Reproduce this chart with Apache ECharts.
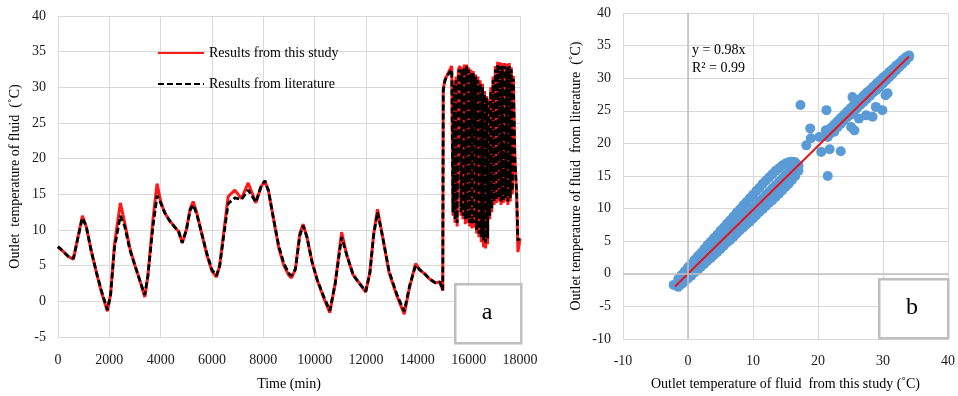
<!DOCTYPE html>
<html>
<head>
<meta charset="utf-8">
<script src="https://cdn.jsdelivr.net/npm/echarts@6/dist/echarts.min.js"></script>
<style>
html,body{margin:0;padding:0;background:#fff;}
#chart{width:958px;height:396px;}
</style>
</head>
<body>
<div id="chart"></div>
<script>
// ---- Panel a: time series ----
const timeMin = [0,200,400,600,750,950,1100,1300,1500,1700,1925,2050,2200,2430,2600,2800,3000,3200,3380,3500,3700,3860,4000,4160,4350,4550,4700,4840,5000,5150,5265,5400,5600,5800,6000,6175,6300,6450,6630,6890,7150,7410,7710,7900,8060,8200,8400,8600,8800,9000,9100,9250,9420,9550,9700,9900,10100,10350,10590,10800,11050,11250,11500,11750,11990,12150,12300,12450,12650,12900,13200,13490,13700,13930,14100,14300,14490,14700,14880,14990,15010,
15080,15200,15340,15390,15430,15470,15510,15550,15600,15660,15700,15740,15780,15830,15870,15920,15960,16000,16040,16090,16130,16180,16220,16270,16310,16360,16400,16450,16490,16540,16580,16620,16660,16700,16740,16770,16820,16860,16900,16950,16990,17040,17080,17130,17170,17220,17260,17310,17350,17400,17440,17490,17530,17580,17620,17660,17700,17740,17800,17870,17920,17960,18000];
const studyTemp = [7.6,7.0,6.3,5.9,8.5,12.0,10.5,7.0,4.0,1.2,-1.4,1.0,8.0,13.8,11.0,7.5,5.0,2.8,0.6,3.5,11.5,16.5,14.0,12.4,11.3,10.4,9.8,8.2,10.0,13.0,14.0,12.5,9.5,6.5,4.2,3.4,5.0,9.5,14.7,15.6,14.4,16.6,13.8,16.0,16.9,15.5,11.5,7.5,5.0,3.6,3.3,4.5,9.5,10.8,9.0,5.5,3.0,0.5,-1.6,2.5,9.7,6.5,3.7,2.5,1.3,4.0,9.5,12.9,9.0,4.0,0.8,-1.8,2.0,5.3,4.4,3.8,3.1,2.6,2.7,1.5,29.8,
31.1,32.0,33.0,12.0,31.0,11.0,31.5,10.5,32.5,33.0,12.0,32.8,11.5,33.2,10.8,33.2,11.0,32.8,10.5,32.5,10.2,32.3,10.3,31.8,9.5,31.5,9.0,31.0,8.3,30.5,7.6,29.5,7.4,28.8,8.0,28.4,11.5,30.0,12.5,31.5,13.5,33.0,13.8,33.6,14.0,33.5,13.5,33.4,13.8,33.4,14.0,33.3,13.5,33.4,14.0,32.8,15.0,31.6,20.0,14.7,6.9,7.0,8.8];
const literatureTemp = [7.7,7.0,6.3,6.0,8.5,11.7,10.5,7.0,4.0,1.4,-1.2,1.0,7.5,12.0,10.5,7.2,5.0,2.8,0.9,3.5,10.5,14.8,13.8,12.4,11.3,10.4,9.8,8.2,10.0,12.8,13.5,12.3,9.5,6.7,4.4,3.6,5.0,9.0,13.7,14.5,14.3,15.6,13.9,16.0,16.9,15.5,11.5,7.8,5.3,3.9,3.6,4.5,9.2,10.6,9.0,5.5,3.0,0.7,-1.3,2.5,9.0,6.5,3.7,2.5,1.4,4.0,9.3,12.5,9.0,4.2,1.0,-1.4,2.2,5.0,4.4,3.8,3.1,2.6,2.7,1.6,29.5,
31.0,31.8,32.5,12.5,30.5,11.5,31.0,11.0,32.0,32.5,12.5,32.5,12.0,32.8,11.5,33.0,11.5,32.5,11.0,32.0,10.8,32.0,11.0,31.5,10.0,31.0,9.5,30.5,9.0,30.0,8.5,29.0,8.2,28.5,8.8,28.0,12.0,29.5,13.0,31.0,14.0,32.5,14.2,33.2,14.5,33.0,14.0,33.0,14.2,33.0,14.5,32.8,14.0,33.0,14.5,32.5,15.5,31.2,20.0,15.0,8.5,8.8,9.2];
const xTicksA = {min:0, max:18000, interval:2000};
const yTicksA = {min:-5, max:40, interval:5};

// ---- Panel b: scatter ----
const scatterX = [-2.2,
-1.5,-1.5,-1.5,-1,-1,-1,-0.5,-0.5,-0.5,0,0,0,0.5,0.5,0.5,1,1,1,1.5,1.5,1.5,2,2,2,2.5,2.5,2.5,3,3,3,3.5,3.5,3.5,4,4,4,4.5,4.5,4.5,5,5,5,5.5,5.5,5.5,6,6,6,6.5,6.5,6.5,7,7,7,7.5,7.5,7.5,8,8,8,8.5,8.5,8.5,9,9,9,9.5,9.5,9.5,10,10,10,10.5,10.5,10.5,11,11,11,11.5,11.5,11.5,12,12,12,12.5,12.5,12.5,13,13,13,13.5,13.5,13.5,14,14,14,14.5,14.5,14.5,15,15,15,15.5,15.5,15.5,16,16,16,16.5,16.5,16.5,17,17,
21.5,21.5,22,22,22.5,22.5,23,23,23.5,23.5,24,24,24.5,24.5,25,25,25.5,25.5,26,26,26.5,26.5,27,27,27.5,27.5,28,28,28.5,28.5,29,29,29.5,29.5,30,30,30.5,30.5,31,31,31.5,31.5,32,32,32.5,32.5,33,33,33.5,33.5,34,34,
17.3,21.3,18.8,18.2,18.9,20.5,21.8,23.5,21.5,20.2,21.2,22.5,25.3,25.1,25.6,26.3,27.4,28.4,29.9,28.9,30.4,30.7];
const scatterY = [-1.7,
-2.0,-1.3,-0.8,-1.6,-0.8,-0.2,-1.2,-0.3,0.4,-0.7,0.2,1.0,-0.3,0.7,1.5,0.2,1.2,2.1,0.6,1.7,2.7,1.1,2.2,3.2,1.5,2.7,3.8,2.0,3.2,4.4,2.4,3.7,4.9,2.9,4.2,5.5,3.3,4.7,6.0,3.8,5.2,6.6,4.3,5.6,7.1,4.8,6.1,7.7,5.2,6.6,8.2,5.7,7.1,8.8,6.2,7.6,9.4,6.7,8.1,9.9,7.1,8.6,10.5,7.6,9.1,11.0,8.0,9.6,11.6,8.5,10.1,12.1,9.0,10.6,12.7,9.5,11.1,13.2,9.9,11.6,13.8,10.4,12.1,14.3,10.9,12.6,14.8,11.3,13.1,15.3,11.8,13.6,15.8,12.3,14.1,16.2,12.8,14.6,16.6,13.3,15.1,16.9,13.8,15.5,17.1,14.4,15.9,17.2,15.0,16.3,17.1,15.8,16.6,
21.0,21.8,21.6,22.4,22.1,22.9,22.5,23.4,23.0,23.9,23.5,24.4,24.0,24.9,24.4,25.4,24.9,25.9,25.4,26.4,25.9,26.8,26.3,27.3,26.8,27.8,27.3,28.2,27.8,28.7,28.2,29.2,28.7,29.6,29.2,30.1,29.7,30.5,30.2,31.0,30.7,31.4,31.2,31.9,31.7,32.3,32.2,32.8,32.7,33.2,33.2,33.5,
25.9,25.1,22.3,19.7,20.8,18.7,19.1,18.8,15.0,21.0,22.0,21.8,27.1,22.5,22.0,23.8,24.3,24.1,25.1,25.6,27.4,27.7];
const trendX = [-2, 34];
const trendY = [-1.96, 33.32];
const xTicksB = {min:-10, max:40, interval:10};
const yTicksB = {min:-10, max:40, interval:5};

const FONT = 'Liberation Serif';
const studySeries = timeMin.map((t,i)=>[t, studyTemp[i]]);
const litSeries = timeMin.map((t,i)=>[t, literatureTemp[i]]);
const scatterData = scatterX.map((x,i)=>[x, scatterY[i]]);
const trendData = trendX.map((x,i)=>[x, trendY[i]]);

const gridLine = {show:true, lineStyle:{color:'#d9d9d9', width:1}};
const axisLbl = {color:'#1a1a1a', fontFamily:FONT, fontSize:14, formatter:(v)=>String(v)};

const chart = echarts.init(document.getElementById('chart'), null, {renderer:'canvas'});
chart.setOption({
  animation:false,
  backgroundColor:'#fff',
  grid:[
    {left:58, right:438, top:16, bottom:52},
    {left:623, right:9, top:13, bottom:57}
  ],
  legend:{
    data:['Results from this study','Results from literature'],
    orient:'vertical', left:157, top:46, padding:0, itemWidth:46, itemHeight:14, itemGap:17,
    itemStyle:{opacity:0},
    textStyle:{fontFamily:FONT, fontSize:14, color:'#000'}
  },
  xAxis:[
    {type:'value', gridIndex:0, min:xTicksA.min, max:xTicksA.max, interval:xTicksA.interval,
     axisLine:{show:false}, axisTick:{show:false}, splitLine:gridLine,
     axisLabel:Object.assign({margin:16}, axisLbl),
     name:'Time (min)', nameLocation:'middle', nameGap:40,
     nameTextStyle:{fontFamily:FONT, fontSize:14, color:'#000'}},
    {type:'value', gridIndex:1, min:xTicksB.min, max:xTicksB.max, interval:xTicksB.interval,
     axisLine:{show:false}, axisTick:{show:false}, splitLine:gridLine,
     axisLabel:Object.assign({margin:15}, axisLbl),
     name:'Outlet temperature of fluid  from this study (˚C)', nameLocation:'middle', nameGap:38,
     nameTextStyle:{fontFamily:FONT, fontSize:14, color:'#000'}}
  ],
  yAxis:[
    {type:'value', gridIndex:0, min:yTicksA.min, max:yTicksA.max, interval:yTicksA.interval,
     axisLine:{show:false}, axisTick:{show:false}, splitLine:gridLine,
     axisLabel:Object.assign({margin:12}, axisLbl),
     name:'Outlet  temperature of fluid  (˚C)', nameLocation:'middle', nameGap:36,
     nameTextStyle:{fontFamily:FONT, fontSize:14, color:'#000'}},
    {type:'value', gridIndex:1, min:yTicksB.min, max:yTicksB.max, interval:yTicksB.interval,
     axisLine:{show:false}, axisTick:{show:false}, splitLine:gridLine,
     axisLabel:Object.assign({margin:12}, axisLbl),
     name:'Outlet temperature of fluid  from literature  (˚C)', nameLocation:'middle', nameGap:40,
     nameTextStyle:{fontFamily:FONT, fontSize:14, color:'#000'}}
  ],
  series:[
    {name:'Results from this study', type:'line', xAxisIndex:0, yAxisIndex:0, data:studySeries,
     symbol:'none', lineStyle:{color:'#ff1a1a', width:3}, itemStyle:{color:'#ff1a1a'}, z:2},
    {name:'Results from literature', type:'line', xAxisIndex:0, yAxisIndex:0, data:litSeries,
     symbol:'none', lineStyle:{color:'#000', width:2.8, type:[6,3]}, itemStyle:{color:'#000'}, z:3},
    {name:'scatter', type:'scatter', xAxisIndex:1, yAxisIndex:1, data:scatterData,
     symbolSize:10, itemStyle:{color:'#5b9bd5', opacity:1}, z:2,
     markLine:{silent:true, symbol:'none', label:{show:false},
       lineStyle:{color:'#bfbfbf', width:1.5, type:'solid'},
       data:[{xAxis:0},{yAxis:0}]}},
    {name:'trend', type:'line', xAxisIndex:1, yAxisIndex:1, data:trendData,
     symbol:'none', lineStyle:{color:'#e8141c', width:2}, z:3}
  ],
  graphic:[
    {type:'rect', left:454, top:283, shape:{width:66, height:59},
     style:{fill:'#fff', stroke:'#bfbfbf', lineWidth:2.5}, z:100},
    {type:'text', x:487, y:313, style:{text:'a', font:'24px "Liberation Serif"', fill:'#000', align:'center', verticalAlign:'middle'}, z:101},
    {type:'rect', left:878, top:278, shape:{width:69, height:59},
     style:{fill:'#fff', stroke:'#bfbfbf', lineWidth:2.5}, z:100},
    {type:'text', x:912, y:308, style:{text:'b', font:'24px "Liberation Serif"', fill:'#000', align:'center', verticalAlign:'middle'}, z:101},
    {type:'text', x:692, y:43, style:{text:'y = 0.98x', font:'14px "Liberation Serif"', fill:'#000'}, z:101},
    {type:'text', x:692, y:61, style:{text:'R² = 0.99', font:'14px "Liberation Serif"', fill:'#000'}, z:101}
  ]
});
</script>
</body>
</html>
